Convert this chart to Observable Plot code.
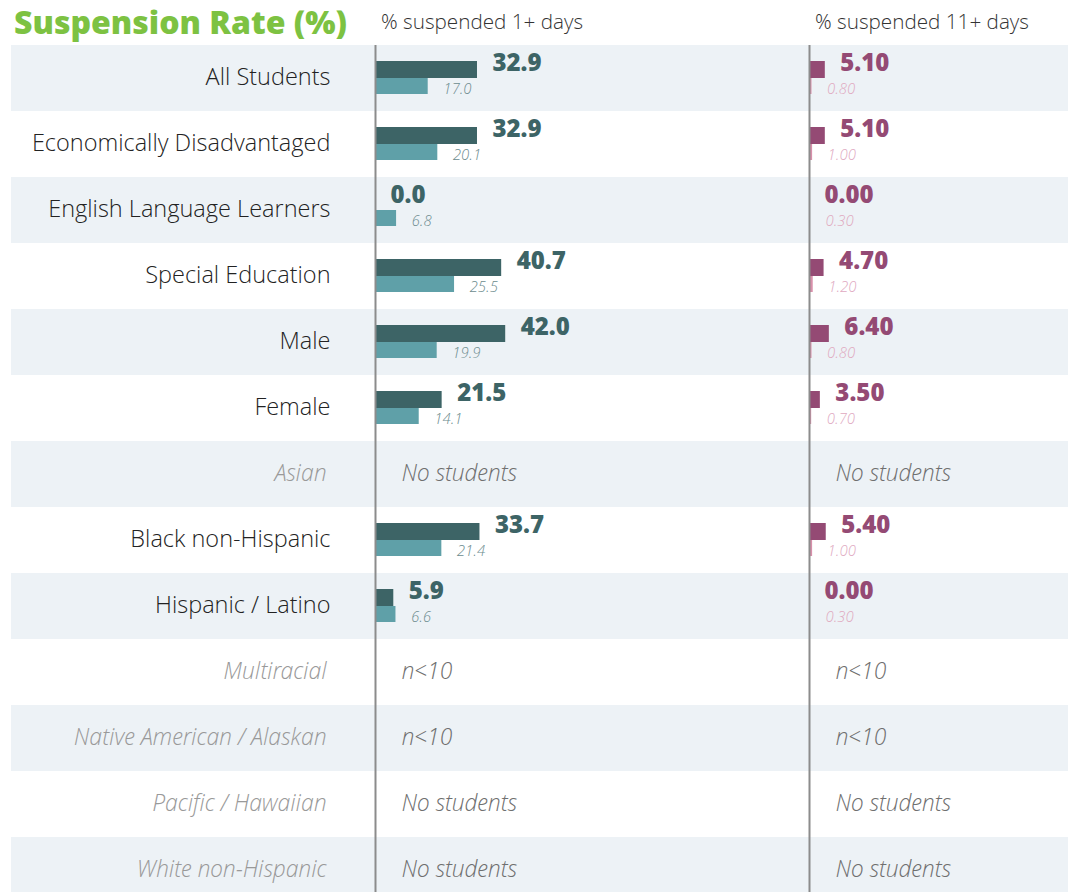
<!DOCTYPE html>
<html><head><meta charset="utf-8">
<script src="https://cdn.jsdelivr.net/npm/d3@7"></script>
<script src="https://cdn.jsdelivr.net/npm/@observablehq/plot@0.6"></script>
<style>
body{margin:0;background:#fff;font-family:"Open Sans",sans-serif;overflow:hidden}
#wrap{position:relative;width:1075px;height:892px;overflow:hidden;background:#fff}
#title{position:absolute;left:14px;top:0px;font-size:32px;font-weight:800;color:#7dc242;line-height:44px;white-space:nowrap}
.hdr{position:absolute;top:7px;font-size:20.7px;color:#333;line-height:28px;white-space:nowrap;font-family:"Open Sans Light","Open Sans",sans-serif;font-weight:300}
#left{position:absolute;left:0;top:43px}
#right{position:absolute;left:799px;top:43px}
</style></head><body>
<div id="wrap">
  <div id="title">Suspension Rate (%)</div>
  <div class="hdr" style="left:381px">% suspended 1+ days</div>
  <div class="hdr" style="left:815px">% suspended 11+ days</div>
  <div id="left"></div>
  <div id="right"></div>
</div>
<script>
const categories = ["All Students","Economically Disadvantaged","English Language Learners","Special Education","Male","Female","Asian","Black non-Hispanic","Hispanic / Latino","Multiracial","Native American / Alaskan","Pacific / Hawaiian","White non-Hispanic"];
const susp1School = [32.9, 32.9, 0.0, 40.7, 42.0, 21.5, null, 33.7, 5.9, null, null, null, null];
const susp1Compare = [17.0, 20.1, 6.8, 25.5, 19.9, 14.1, null, 21.4, 6.6, null, null, null, null];
const susp11School = [5.10, 5.10, 0.00, 4.70, 6.40, 3.50, null, 5.40, 0.00, null, null, null, null];
const susp11Compare = [0.80, 1.00, 0.30, 1.20, 0.80, 0.70, null, 1.00, 0.30, null, null, null, null];
const notes = [null, null, null, null, null, null, "No students", null, null, "n<10", "n<10", "No students", "No students"];

const rows = categories.map((c, i) => ({
  category: c, s1: susp1School[i], c1: susp1Compare[i], s11: susp11School[i], c11: susp11Compare[i], note: notes[i]
}));
const shaded = categories.filter((d, i) => i % 2 === 0);
const withData1 = rows.filter(d => d.s1 != null);
const withData11 = rows.filter(d => d.s11 != null);
const noted = rows.filter(d => d.note != null);
const plain = rows.filter(d => d.note == null);

const LIGHT = "Open Sans Light, Open Sans, sans-serif";
const PX = 3.1; // pixels per percentage point
const common = {height: 860, marginTop: 2, marginBottom: 0, marginRight: 0,
  y: {domain: categories, axis: null, padding: 0},
  style: {fontFamily: "Open Sans", background: "transparent", overflow: "visible"}};

function panel(data, sKey, cKey, fmt, darkFill, lightFill, darkText, lightText) {
  return [
    Plot.barX(data, {x1: 0, x2: sKey, y: "category", fill: darkFill, insetTop: 16, insetBottom: 33}),
    Plot.barX(data, {x1: 0, x2: cKey, y: "category", fill: lightFill, insetTop: 33, insetBottom: 17}),
    Plot.ruleX([0], {stroke: "#8c8c8c", strokeWidth: 2}),
    Plot.text(data, {x: sKey, y: "category", text: d => d[sKey].toFixed(fmt), dx: 15, dy: -15, textAnchor: "start",
      fontSize: 24, fontWeight: 800, fill: darkText}),
    Plot.text(data, {x: cKey, y: "category", text: d => d[cKey].toFixed(fmt), dx: 15, dy: 11, textAnchor: "start",
      fontSize: 15, fontStyle: "italic", fontWeight: 300, fontFamily: LIGHT, fill: lightText}),
    Plot.text(noted, {x: 0, y: "category", text: "note", dx: 26, dy: -1, textAnchor: "start",
      fontSize: 23, fontStyle: "italic", fontWeight: 300, fontFamily: LIGHT, fill: "#6f6f6f"})
  ];
}

const left = Plot.plot({
  ...common, width: 799, marginLeft: 11,
  x: {domain: [-364 / PX, 424 / PX], axis: null},
  marks: [
    Plot.cell(shaded, {y: d => d, fill: "#edf2f6"}),
    ...panel(withData1, "s1", "c1", 1, "#3d6466", "#5fa0a8", "#3d6466", "#6c8b8e"),
    Plot.text(plain, {x: 0, y: "category", text: "category", dx: -45, dy: -1, textAnchor: "end",
      fontSize: 23.5, fontWeight: 300, fontFamily: LIGHT, fill: "#222"}),
    Plot.text(noted, {x: 0, y: "category", text: "category", dx: -49, dy: -1, textAnchor: "end",
      fontSize: 23, fontWeight: 300, fontFamily: LIGHT, fontStyle: "italic", fill: "#999"})
  ]
});
document.getElementById("left").appendChild(left);

const right = Plot.plot({
  ...common, width: 276, marginLeft: 0, marginRight: 7,
  x: {domain: [-10 / PX, 259 / PX], axis: null},
  marks: [
    Plot.cell(shaded, {y: d => d, fill: "#edf2f6"}),
    ...panel(withData11, "s11", "c11", 2, "#944a74", "#d890ab", "#944a74", "#e0a9bf")
  ]
});
document.getElementById("right").appendChild(right);
</script>
</body></html>
